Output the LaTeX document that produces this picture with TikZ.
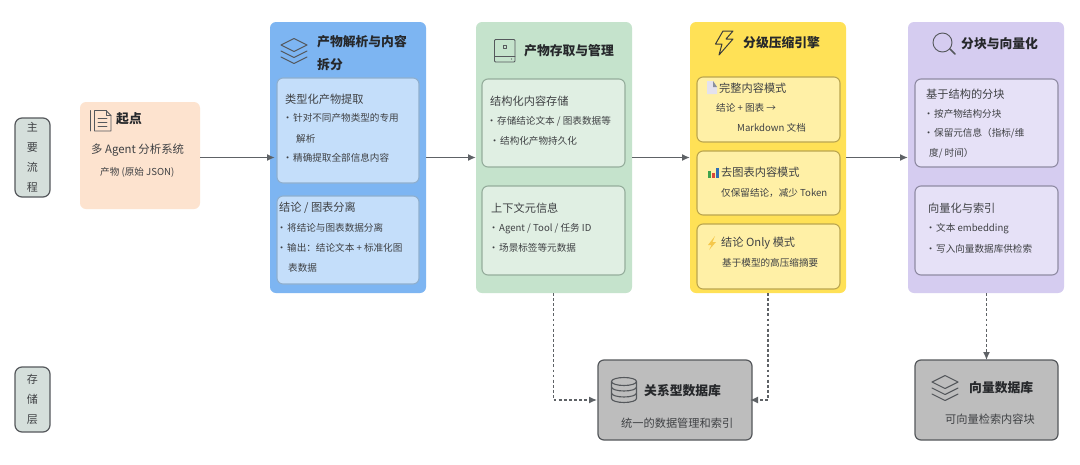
\documentclass[tikz,border=0pt]{standalone}
\usepackage{fontspec}
\setmainfont{Noto Sans CJK SC}
\usetikzlibrary{arrows.meta}
\definecolor{ink}{HTML}{3F4144}
\definecolor{head}{HTML}{26282B}
\definecolor{iconc}{HTML}{55585C}
\definecolor{flowc}{HTML}{5E6266}
\definecolor{sidefill}{HTML}{D5DFDB}
\definecolor{startc}{HTML}{FDE3CF}
\definecolor{bluec}{HTML}{7DB5F2}
\definecolor{greenc}{HTML}{C5E3CC}
\definecolor{yellowc}{HTML}{FFE156}
\definecolor{purplec}{HTML}{D5CCF0}
\definecolor{grayc}{HTML}{BDBDBD}
\definecolor{bcard}{HTML}{C4DEFA}
\definecolor{bline}{HTML}{8FAFCE}
\definecolor{gcard}{HTML}{E0EFE3}
\definecolor{gline}{HTML}{95AD9C}
\definecolor{ycard}{HTML}{FFF0A6}
\definecolor{yline}{HTML}{BBA64F}
\definecolor{pcard}{HTML}{E6E1F7}
\definecolor{pline}{HTML}{8F8BA3}
\definecolor{pagec}{HTML}{E4E2EE}
\definecolor{foldc}{HTML}{8A8F9C}
\definecolor{bargreen}{HTML}{3FA34D}
\definecolor{barred}{HTML}{D9483B}
\definecolor{barblue}{HTML}{2F6DB5}
\definecolor{boltc}{HTML}{F5C84B}
\definecolor{darkicon}{HTML}{3A3B3A}
\newcommand{\bx}[6]{\node[#6,minimum width={(#4-#2)*1pt},minimum height={(#5-#3)*1pt}] (#1) at ({(#2+#4)/2},{(#3+#5)/2}) {};}
\newcommand{\bl}{\hspace*{-3.3pt}•\hspace*{0.7pt}}
\tikzset{
  rbox/.style={rounded corners=6pt,inner sep=0pt,outer sep=0pt},
  sidebox/.style={rbox,draw=iconc,line width=1.2pt,fill=sidefill,rounded corners=7pt,minimum width=35pt,align=center,text=ink},
  card/.style={rbox,draw=#1,line width=1.1pt},
  body/.style={anchor=west,inner sep=0pt,text=ink,font=\fontsize{9.6}{12}\selectfont},
  sub/.style={anchor=west,inner sep=0pt,text=ink,font=\fontsize{11.2}{13}\selectfont},
  title/.style={anchor=west,inner sep=0pt,text=head,font=\fontsize{12.8}{15}\selectfont\bfseries},
  flow/.style={draw=flowc,line width=1.6pt,-{Latex[length=8pt,width=7pt]}},
  store/.style={draw=flowc,line width=1.3pt,dash pattern=on 2.8pt off 2.3pt,-{Latex[length=8pt,width=7pt]}},
  icon/.style={draw=iconc,line width=0.9pt,line join=round,line cap=round},
}
\begin{document}
\begin{tikzpicture}[x=1pt,y=-1pt]
\useasboundingbox (0,0) rectangle (1080,464);
\fill[white] (0,0) rectangle (1080,464);

% side labels
\node[sidebox,minimum height=79pt,font=\fontsize{11}{19.8}\selectfont] (lblmain) at (32.5,157.5) {主\\要\\流\\程};
\node[sidebox,minimum height=65pt,font=\fontsize{11}{20}\selectfont] (lblstore) at (32.5,399.5) {存\\储\\层};

% containers
\bx{start}{80}{102}{200}{209}{rbox,fill=startc}
\bx{blue}{270}{22}{426}{293}{rbox,fill=bluec}
\bx{green}{476}{22}{632}{293}{rbox,fill=greenc}
\bx{yellow}{690}{22}{846}{293}{rbox,fill=yellowc}
\bx{purple}{908}{22}{1064}{293}{rbox,fill=purplec}
\bx{rdb}{598}{360}{752}{440}{rbox,draw=iconc,line width=1.2pt,fill=grayc}
\bx{vdb}{915}{360}{1058}{440}{rbox,draw=iconc,line width=1.2pt,fill=grayc}

% inner cards
\bx{b1}{277}{78}{419}{183}{card=bline,fill=bcard}
\bx{b2}{277}{196}{419}{284}{card=bline,fill=bcard}
\bx{g1}{482}{79}{625}{167}{card=gline,fill=gcard}
\bx{g2}{482}{186}{625}{275}{card=gline,fill=gcard}
\bx{y1}{697}{77}{840}{142}{card=yline,fill=ycard}
\bx{y2}{697}{151}{840}{215}{card=yline,fill=ycard}
\bx{y3}{697}{224}{840}{289}{card=yline,fill=ycard}
\bx{p1}{915}{79}{1058}{167}{card=pline,fill=pcard}
\bx{p2}{915}{186}{1058}{275}{card=pline,fill=pcard}

% connectors
\draw[flow,shorten >=-5pt] (start.east |- blue.west) -- (blue.west);
\draw[flow] (blue.east) -- (green.west);
\draw[flow] (green.east) -- (yellow.west);
\draw[flow] (yellow.east) -- (purple.west);
\coordinate (gdrop) at (553.5,293);
\coordinate (ydrop) at (768,293);
\coordinate (rjoin) at (675,400);
\draw[store,shorten >=1pt] (gdrop) -- (gdrop |- rjoin) -- (rdb.west |- rjoin);
\draw[store,shorten >=-2pt] (ydrop) -- (ydrop |- rjoin) -- (rdb.east |- rjoin);
\draw[store] (purple.south -| vdb.north) -- (vdb.north);

% start
\draw[icon] (90.5,110.5) -- (90.5,131);
\draw[icon] (94.5,131) -- (94.5,110.5) -- (106,110.5) -- (111,115.5) -- (111,131) -- cycle;
\draw[icon,line width=0.7pt] (106,110.5) -- (106,115.5) -- (111,115.5) (98,118) -- (107,118) (98,122) -- (107,122) (98,126) -- (107,126);
\node[title] (tstart) at (116,119) {起点};
\node[sub,font=\fontsize{11.4}{13}\selectfont] (tstart1) at (91,150) {多 Agent 分析系统};
\node[body] (tstart2) at (100,172) {产物 (原始 JSON)};

% blue
\draw[icon,line width=1pt] (281,45) -- (294,38.5) -- (307,45) -- (294,51.5) -- cycle;
\draw[icon,line width=1pt] (281,51) -- (294,57.5) -- (307,51);
\draw[icon,line width=1pt] (281,57) -- (294,63.5) -- (307,57);
\node[title] (tb1) at (317,42) {产物解析与内容};
\node[title] (tb2) at (317,65) {拆分};
\node[sub] (tb3) at (285,99) {类型化产物提取};
\node[body] (tb4) at (286,118) {\bl 针对不同产物类型的专用};
\node[body] (tb5) at (296,139) {解析};
\node[body] (tb6) at (286,158) {\bl 精确提取全部信息内容};
\node[sub] (tb7) at (279,208) {结论 / 图表分离};
\node[body] (tb8) at (280,228) {\bl 将结论与图表数据分离};
\node[body] (tb9) at (280,248) {\bl 输出：结论文本 + 标准化图};
\node[body] (tb10) at (288,268) {表数据};

% green
\draw[icon,rounded corners=1pt] (494.5,39.5) rectangle (515,62);
\draw[icon] (494.5,56) -- (515,56);
\draw[icon,line width=0.7pt] (503,45) rectangle (506,48.5);
\fill[iconc] (511.5,59) circle (0.7pt);
\node[title] (tg1) at (524,51) {产物存取与管理};
\node[sub] (tg2) at (490,101) {结构化内容存储};
\node[body] (tg3) at (490,121) {\bl 存储结论文本 / 图表数据等};
\node[body] (tg4) at (493,141) {\bl 结构化产物持久化};
\node[sub] (tg5) at (491,208) {上下文元信息};
\node[body] (tg6) at (492,229) {\bl Agent / Tool / 任务 ID};
\node[body] (tg7) at (492,248) {\bl 场景标签等元数据};

% yellow
\draw[icon,draw=darkicon,line width=1pt] (723,31) -- (715.5,44) -- (722,44) -- (719,55) -- (733,39) -- (726,39) -- (733,31) -- cycle;
\node[title] (ty1) at (743,43) {分级压缩引擎};
\fill[pagec] (707,81) -- (713,81) -- (717,87) -- (717,94) -- (707,94) -- cycle;
\fill[foldc] (713,81) -- (717,87) -- (713,87) -- cycle;
\node[sub] (ty2) at (719,88) {完整内容模式};
\node[body] (ty3) at (716,108) {结论 + 图表 →};
\node[body] (ty4) at (737,128) {Markdown 文档};
\fill[bargreen] (708,170.5) rectangle (711,177.5);
\fill[barred] (712,172.5) rectangle (715,177.5);
\fill[barblue] (716,167.5) rectangle (719,177.5);
\node[sub] (ty5) at (721,172) {去图表内容模式};
\node[body] (ty6) at (721,193) {仅保留结论，减少 Token};
\fill[boltc] (715,236) -- (708,245) -- (711.5,245) -- (709,250) -- (716,242) -- (712.5,242) -- cycle;
\node[sub] (ty7) at (721,243) {结论 Only 模式};
\node[body] (ty8) at (722,263) {基于模型的高压缩摘要};

% purple
\draw[icon] (942.5,42.5) circle (9.5pt);
\draw[icon,line width=1.6pt] (950,49) -- (955,54);
\node[title] (tp1) at (961,44) {分块与向量化};
\node[sub] (tp2) at (926,94) {基于结构的分块};
\node[body] (tp3) at (927,114) {\bl 按产物结构分块};
\node[body] (tp4) at (927,133) {\bl 保留元信息（指标/维};
\node[body] (tp5) at (929,153) {度/ 时间）};
\node[sub] (tp6) at (928,208) {向量化与索引};
\node[body] (tp7) at (929,229) {\bl 文本 embedding};
\node[body] (tp8) at (929,249) {\bl 写入向量数据库供检索};

% relational database
\draw[icon,line width=1.1pt] (611.5,381.5) -- (611.5,398.5) arc[start angle=180,end angle=360,x radius=12.5pt,y radius=4pt] -- (636.5,381.5);
\draw[icon,line width=1.1pt] (624,381.5) ellipse (12.5pt and 4pt);
\draw[icon,line width=1.1pt] (611.5,387) arc[start angle=180,end angle=360,x radius=12.5pt,y radius=4pt];
\draw[icon,line width=1.1pt] (611.5,393) arc[start angle=180,end angle=360,x radius=12.5pt,y radius=4pt];
\node[title] (tr1) at (644,391) {关系型数据库};
\node[sub] (tr2) at (621,423) {统一的数据管理和索引};

% vector database
\draw[icon,line width=1.1pt] (932,382) -- (945,375.5) -- (958,382) -- (945,388.5) -- cycle;
\draw[icon,line width=1.1pt] (932,388) -- (945,394.5) -- (958,388);
\draw[icon,line width=1.1pt] (932,394) -- (945,400.5) -- (958,394);
\node[title] (tv1) at (969,388) {向量数据库};
\node[body,font=\fontsize{11.2}{13}\selectfont] (tv2) at (945,419) {可向量检索内容块};
\end{tikzpicture}
\end{document}
